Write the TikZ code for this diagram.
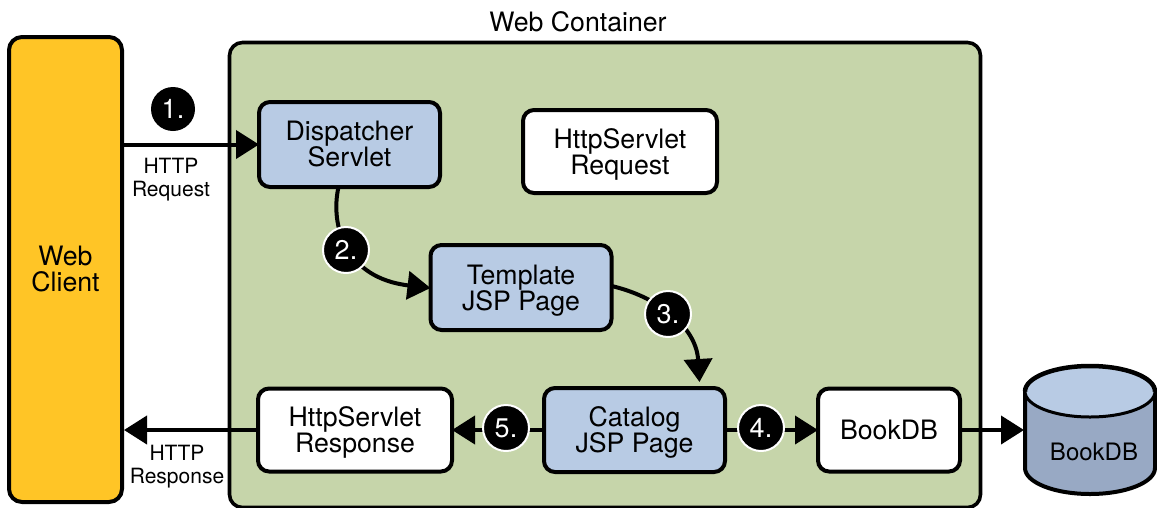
\documentclass[tikz,border=0pt]{standalone}
\usepackage{fontspec}
\setmainfont{TeX Gyre Heros}
\usetikzlibrary{arrows.meta}
\definecolor{cyellow}{HTML}{FFC526}
\definecolor{cgreen}{HTML}{C6D5AA}
\definecolor{cblue}{HTML}{B8CBE4}
\definecolor{cdark}{HTML}{98A9C4}
\tikzset{
  bigtext/.style={font=\fontsize{26.7}{26}\selectfont,align=center},
  smalltext/.style={font=\fontsize{21}{23}\selectfont,align=center,inner sep=0pt},
  boxnode/.style={draw=black,line width=4pt,rounded corners=11pt,outer sep=0pt,inner sep=0pt,bigtext},
  stepdot/.style={circle,fill=black,draw=white,line width=2pt,minimum size=46pt,inner sep=0pt,text=white,font=\fontsize{27}{27}\selectfont},
  link/.style={line width=4pt,-{Triangle[length=23pt,width=28pt]}},
}
\begin{document}
\begin{tikzpicture}[x=1pt,y=-1pt]
\useasboundingbox (0,0) rectangle (1157,507);
\begin{scope}
\clip (0,0) rectangle (1157,507);
\node[boxnode,fill=cgreen,minimum width=751pt,minimum height=465pt,rounded corners=13pt,line width=3.6pt] (cont) at (605,275) {};
\end{scope}
\node[bigtext,inner sep=0pt] (conttitle) at (578,22) {Web Container};
\node[boxnode,fill=cyellow,minimum width=113pt,minimum height=465pt,rounded corners=13pt] (web) at (65.5,269.5) {Web\\Client};
\node[boxnode,fill=cblue,minimum width=181pt,minimum height=85pt] (disp) at (349.5,144.5) {Dispatcher\\Servlet};
\node[boxnode,fill=white,minimum width=194pt,minimum height=83pt] (req) at (620,151.5) {HttpServlet\\\smash{Request}};
\node[boxnode,fill=cblue,minimum width=181pt,minimum height=85pt] (tmpl) at (521,287.5) {Template\\\smash{JSP Page}};
\node[boxnode,fill=cblue,minimum width=181pt,minimum height=84pt] (cat) at (634.5,430) {Catalog\\\smash{JSP Page}};
\node[boxnode,fill=white,minimum width=194pt,minimum height=83pt] (resp) at (355,430) {HttpServlet\\\smash{Response}};
\node[boxnode,fill=white,minimum width=142pt,minimum height=83pt] (bdb) at (889,430) {BookDB};
% database cylinder
\node[minimum width=130pt,minimum height=128pt,inner sep=0pt,outer sep=1pt] (db) at (1090,430) {};
\draw[line width=4pt,fill=cdark] (1025,391.5) -- (1025,468) arc[x radius=65,y radius=26,start angle=180,end angle=0] -- (1155,391.5) -- cycle;
\draw[line width=3pt,fill=cblue] (1090,391.5) ellipse[x radius=65,y radius=25.5];
\draw[line width=4.5pt] (1025,391.5) arc[x radius=65,y radius=25.5,start angle=180,end angle=360];
\node[font=\fontsize{24}{24}\selectfont,inner sep=0pt] (dblabel) at (1094,452) {BookDB};
% connectors
\draw[link] (web.east |- disp.west) -- (disp.west);
\draw[link] ([xshift=-11pt]disp.south) .. controls (330,225) and (345,278) .. ([yshift=-0.5pt]tmpl.west);
\draw[link] ([yshift=1.5pt]tmpl.east) .. controls (655,296) and (696,325) .. ([xshift=65pt,yshift=6pt]cat.north);
\draw[link] (cat.east) -- (bdb.west);
\draw[link] (cat.west) -- (resp.east);
\draw[link,shorten >=2pt] (resp.west) -- (web.east |- resp.west);
\draw[link] (bdb.east) -- (db.west);
% step markers
\node[stepdot,draw=none,minimum size=44pt] (s1) at (173,109) {1.};
\node[stepdot] (s2) at (346,250) {2.};
\node[stepdot] (s3) at (668,314) {3.};
\node[stepdot] (s4) at (761,428) {4.};
\node[stepdot] (s5) at (506,428) {5.};
% labels
\node[smalltext] (lreq) at (171,177) {HTTP\\\smash{Request}};
\node[smalltext] (lresp) at (177,464.5) {HTTP\\\smash{Response}};
\end{tikzpicture}
\end{document}
